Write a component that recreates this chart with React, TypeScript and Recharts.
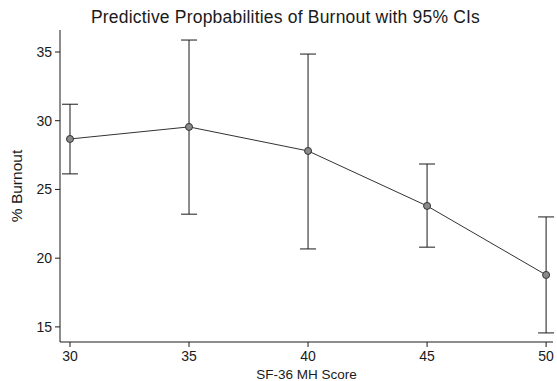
import React from "react";
import {
  ComposedChart,
  Line,
  ErrorBar,
  XAxis,
  YAxis,
} from "recharts";

const scores = [30, 35, 40, 45, 50];
const burnout = [28.67, 29.55, 27.8, 23.8, 18.78];
const ciLow = [26.13, 23.2, 20.67, 20.8, 14.56];
const ciHigh = [31.2, 35.87, 34.85, 26.85, 23.0];
const xTicks = [30, 35, 40, 45, 50];
const yTicks = [15, 20, 25, 30, 35];

const data = scores.map((s, i) => ({
  score: s,
  burnout: burnout[i],
  ci: [burnout[i] - ciLow[i], ciHigh[i] - burnout[i]],
}));

const font = "'Liberation Sans', Arial, sans-serif";
const ink = "#1a1a1a";

// rotated y title, centred on the plot height
const YTitle = (props: any) => {
  const vb = props.viewBox || {};
  const cy = (vb.y || 0) + (vb.height || 0) / 2;
  return (
    <text
      x={22}
      y={cy}
      transform={`rotate(-90 22 ${cy})`}
      textAnchor="middle"
      fill={ink}
      fontSize={15.5}
      fontFamily={font}
    >
      % Burnout
    </text>
  );
};

export default function App() {
  return (
    <div style={{ position: "absolute", left: 0, top: 0, width: 557, height: 381, background: "#fff", fontFamily: font }}>
      <div
        style={{
          position: "absolute",
          left: 0,
          width: 571,
          top: 7,
          textAlign: "center",
          fontSize: 17.5,
          letterSpacing: 0.2,
          color: ink,
          lineHeight: "20px",
        }}
      >
        Predictive Propbabilities of Burnout with 95% CIs
      </div>
      <ComposedChart
        width={557}
        height={381}
        data={data}
        margin={{ top: 30, right: 4, bottom: 0, left: 0 }}
      >
        <XAxis
          dataKey="score"
          type="number"
          domain={[29.58, 50.29]}
          ticks={xTicks}
          allowDataOverflow
          tick={{ fill: ink, fontSize: 14, fontFamily: font }}
          tickSize={5}
          tickMargin={4}
          stroke={ink}
          height={39}
          label={{ value: "SF-36 MH Score", position: "insideBottom", offset: 2, fill: ink, fontSize: 13.5, fontFamily: font }}
        />
        <YAxis
          type="number"
          domain={[13.9, 36.6]}
          ticks={yTicks}
          allowDataOverflow
          width={60}
          tick={{ fill: ink, fontSize: 14, fontFamily: font }}
          tickSize={5}
          tickMargin={3}
          stroke={ink}
          label={{ content: YTitle }}
        />
        <Line
          dataKey="burnout"
          type="linear"
          stroke="#333"
          strokeWidth={1}
          dot={{ r: 3.5, fill: "#8a8a8a", stroke: "#333", strokeWidth: 1 }}
          isAnimationActive={false}
        >
          <ErrorBar dataKey="ci" width={8} stroke={ink} strokeWidth={1} direction="y" />
        </Line>
      </ComposedChart>
    </div>
  );
}
